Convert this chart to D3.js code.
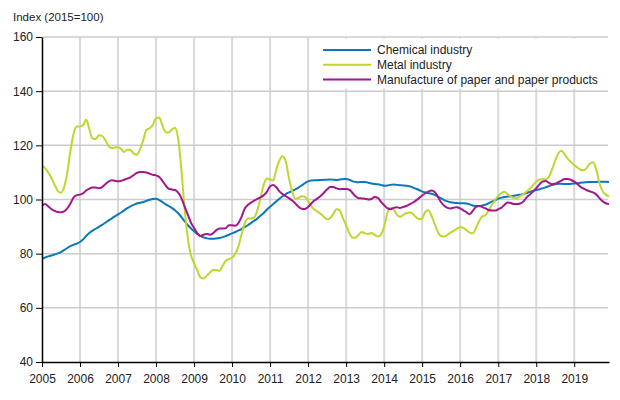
<!DOCTYPE html>
<html>
<head>
<meta charset="utf-8">
<script src="https://cdn.jsdelivr.net/npm/d3@7"></script>
<style>
  body { margin: 0; background: #fff; }
  svg text { font-family: "Liberation Sans", Arial, sans-serif; fill: #222; }
</style>
</head>
<body>
<svg id="chart"></svg>
<script>
// monthly index values, 2005-01 .. 2019-12 (2015=100)
let chemical = [
  78.2, 78.6, 79, 79.3, 79.7, 80.1, 80.6, 81.3, 82.1, 82.8, 83.3, 83.7,
  84.3, 85.3, 86.5, 87.6, 88.5, 89.2, 89.9, 90.6, 91.4, 92.2, 93, 93.8,
  94.5, 95.2, 96, 96.8, 97.5, 98, 98.5, 98.8, 99.1, 99.5, 99.9, 100.2,
  100.3, 99.8, 99.1, 98.3, 97.6, 96.9, 96, 94.9, 93.5, 92, 90.6, 89.4,
  88.3, 87.3, 86.6, 86, 85.7, 85.5, 85.5, 85.6, 85.8, 86.1, 86.5, 87,
  87.5, 88, 88.5, 89.1, 89.8, 90.5, 91.3, 92.1, 93, 94, 95, 96.2,
  97.3, 98.3, 99.3, 100.3, 101.2, 102, 102.6, 103.1, 103.7, 104.4, 105.2, 106,
  106.7, 107, 107.1, 107.1, 107.2, 107.3, 107.3, 107.4, 107.3, 107.2, 107.4, 107.5,
  107.6, 107.3, 106.8, 106.5, 106.4, 106.5, 106.5, 106.2, 105.9, 105.7, 105.6, 105.4,
  105.1, 105.2, 105.4, 105.5, 105.4, 105.3, 105.2, 105.1, 104.9, 104.5, 104, 103.5,
  102.9, 102.6, 102.4, 102.1, 101.7, 101.1, 100.4, 99.8, 99.3, 99, 98.8, 98.7,
  98.6, 98.6, 98.5, 98.2, 97.8, 97.6, 97.6, 97.8, 98.1, 98.6, 99.2, 99.7,
  100.3, 100.7, 100.9, 101.1, 101.2, 101.4, 101.6, 101.8, 102, 102.4, 102.8, 103.2,
  103.5, 103.8, 104.1, 104.5, 104.9, 105.3, 105.6, 105.8, 105.8, 105.7, 105.7, 105.8,
  105.9, 106, 106.2, 106.3, 106.4, 106.5, 106.5, 106.5, 106.6, 106.6, 106.6, 106.5
]
let metal = [
  112.5, 111.5, 110, 108, 105.5, 103.2, 102.5, 104.5, 110, 118, 124.5, 127,
  127, 127.5, 129.5, 126, 122.5, 122.3, 123.7, 123.5, 122, 119.8, 119, 119.2,
  119.3, 118.7, 117.5, 118.5, 118.3, 117, 116.5, 118.5, 122, 125.7, 126.3, 127.5,
  130, 130.3, 127.5, 125, 124.7, 125.8, 126.5, 122.5, 111, 97, 86, 79.5,
  76.5, 73.8, 71.3, 70.8, 71.8, 73, 74, 74, 73.6, 75.5, 77.3, 78,
  78.5, 80, 82.5, 87, 91, 93, 93, 93.3, 96, 100.5, 105.5, 107.8,
  107.5, 107, 111, 114.5, 116, 114, 108, 103, 100.3, 100.6, 101.2, 101,
  99.5, 97.5, 96.3, 95.5, 94.7, 93.6, 92.7, 93.2, 94.8, 96.4, 96, 93,
  90.5, 87.5, 86, 85.9, 87, 88, 87.5, 87.3, 87.6, 87, 86.3, 87,
  90, 95, 97, 96.5, 94.5, 93.6, 94.2, 95, 95.2, 94.8, 93.5, 92.8,
  93, 95.5, 96, 94, 91, 88, 86.5, 86.3, 87, 87.8, 88.5, 89.2,
  89.8, 89.5, 88.7, 87.8, 87.5, 89.5, 92, 93.8, 94.2, 96, 98, 99.8,
  101.3, 102.4, 102.9, 102, 101.1, 100.6, 100.5, 101.3, 102, 103, 104, 105.3,
  106.6, 107.4, 107.5, 107.4, 108.3, 111, 114.3, 117, 118, 116.7, 115, 113.8,
  112.7, 111.8, 111, 110.8, 111.7, 113.3, 113.8, 111, 106, 103, 101.8, 101.2
]
let paper = [
  97.7, 98.3, 97.5, 96.5, 95.8, 95.4, 95.3, 95.6, 96.7, 98.5, 100.8, 101.6,
  101.8, 102.3, 103.3, 104, 104.4, 104.4, 104.2, 104.6, 105.6, 106.6, 107.1, 106.9,
  106.7, 106.9, 107.3, 107.7, 108.2, 109, 109.8, 110.2, 110.2, 110, 109.5, 109.1,
  108.9, 108.3, 107, 105.3, 104, 103.7, 103.5, 102.5, 100.5, 97.5, 94.5, 91.5,
  89.5, 87.5, 86.5, 87, 87.3, 87, 87.5, 88.6, 89.3, 89.3, 89.4, 90.5,
  90.5, 90.3, 91.2, 93.5, 96.5, 98, 98.8, 99.6, 100.2, 100.8, 101.6, 102.8,
  104.9, 105.4, 104.5, 103, 102, 101.2, 100.5, 99.6, 98.5, 97.3, 96.6, 96.5,
  97.2, 98.5, 99.6, 100.4, 101.3, 102.5, 103.7, 104.6, 104.6, 104.1, 103.8, 103.9,
  103.9, 103.6, 102.5, 101.2, 100.5, 100.4, 100.3, 100, 100.2, 100.9, 100.6, 99.2,
  97.9, 96.8, 96.4, 96.9, 97.1, 96.9, 97.2, 97.6, 98.2, 98.8, 99.6, 100.5,
  101.5, 102.3, 102.9, 103.3, 102.8, 101, 99, 97.7, 96.9, 96.7, 97, 97.1,
  96.7, 96, 95.3, 94.6, 95.8, 97.3, 97.6, 97.2, 96.7, 96.1, 95.9, 95.9,
  96.4, 97, 98, 98.9, 98.7, 98.3, 98.3, 98.5, 99.3, 100.8, 101.8, 102.9,
  104.2, 105.6, 106.6, 106.8, 106.2, 105.6, 105.8, 106.4, 107, 107.6, 107.6, 107.2,
  106.6, 105.7, 104.7, 104, 103.4, 103, 102.6, 101.8, 100.5, 99.3, 98.6, 98.3
]

let seriesNames = ['Chemical industry', 'Metal industry', 'Manufacture of paper and paper products']
let colors = ['#0b78ba', '#c0d52e', '#a3168c']
let yTicks = [40, 60, 80, 100, 120, 140, 160]
let yearTicks = d3.range(2005, 2020)

let width = 620
let height = 400
let margin = {top: 37, right: 11, bottom: 38, left: 42}

let months = d3.timeMonth.range(new Date(2005, 0, 1), new Date(2020, 0, 1))
let allSeries = [chemical, metal, paper]

let svg = d3.select('#chart')
            .attr('width', width)
            .attr('height', height)

let x = d3.scaleTime()
          .domain([months[0], months[months.length - 1]])
          .range([margin.left, width - margin.right])
let y = d3.scaleLinear()
          .domain([40, 160])
          .range([height - margin.bottom, margin.top])

// gridlines
svg.append('g')
   .selectAll('line')
   .data(yearTicks.slice(1))
   .enter()
   .append('line')
   .attr('x1', d => x(new Date(d, 0, 1)))
   .attr('x2', d => x(new Date(d, 0, 1)))
   .attr('y1', y(40))
   .attr('y2', y(160))
   .attr('stroke', '#d9d9d9')
   .attr('stroke-width', 2)

svg.append('g')
   .selectAll('line')
   .data(yTicks.slice(1))
   .enter()
   .append('line')
   .attr('x1', margin.left)
   .attr('x2', width - margin.right - 1)
   .attr('y1', d => y(d))
   .attr('y2', d => y(d))
   .attr('stroke', '#cccccc')
   .attr('stroke-width', 1.5)

// legend box hides the gridlines behind it
svg.append('rect')
   .attr('x', 316)
   .attr('y', y(160) + 1.5)
   .attr('width', 290)
   .attr('height', 50)
   .attr('fill', '#fff')

// lines
let line = d3.line()
             .x((d, i) => x(months[i]))
             .y(d => y(d))
             .curve(d3.curveMonotoneX)

svg.append('g')
   .selectAll('path')
   .data(allSeries)
   .enter()
   .append('path')
   .attr('d', d => line(d))
   .attr('fill', 'none')
   .attr('stroke', (d, i) => colors[i])
   .attr('stroke-width', 2)
   .attr('stroke-linejoin', 'round')

// axes
let xAxis = d3.axisBottom(x)
              .tickValues(yearTicks.map(d => new Date(d, 0, 1)))
              .tickFormat(d3.timeFormat('%Y'))
              .tickSize(5)
              .tickSizeOuter(0)
let yAxis = d3.axisLeft(y)
              .tickValues(yTicks)
              .tickSize(6)
              .tickSizeOuter(0)

let gx = svg.append('g')
            .attr('transform', `translate(0,${y(40)})`)
            .call(xAxis)
let gy = svg.append('g')
            .attr('transform', `translate(${margin.left},0)`)
            .call(yAxis)

gx.select('.domain').attr('stroke', '#000').attr('stroke-width', 1.5)
gy.select('.domain').attr('stroke', '#000').attr('stroke-width', 1.5)
svg.selectAll('.tick line').attr('stroke', '#000')
svg.selectAll('.tick text')
   .style('font-family', '"Liberation Sans", Arial, sans-serif')
   .style('font-size', '12px')
   .attr('fill', '#222')
gx.selectAll('.tick text').attr('dy', '1.1em')
gy.selectAll('.tick text').attr('x', -9)

svg.append('text')
   .attr('x', 13)
   .attr('y', 21)
   .style('font-size', '11.5px')
   .text('Index (2015=100)')

// legend
let legend = svg.append('g')
                .selectAll('g')
                .data(seriesNames)
                .enter()
                .append('g')
                .attr('transform', (d, i) => `translate(323,${50 + i * 14.7})`)

legend.append('line')
      .attr('x1', 0)
      .attr('x2', 48)
      .attr('stroke', (d, i) => colors[i])
      .attr('stroke-width', 2)

legend.append('text')
      .attr('x', 54)
      .attr('dy', '0.36em')
      .style('font-size', '12px')
      .text(d => d)
</script>
</body>
</html>
